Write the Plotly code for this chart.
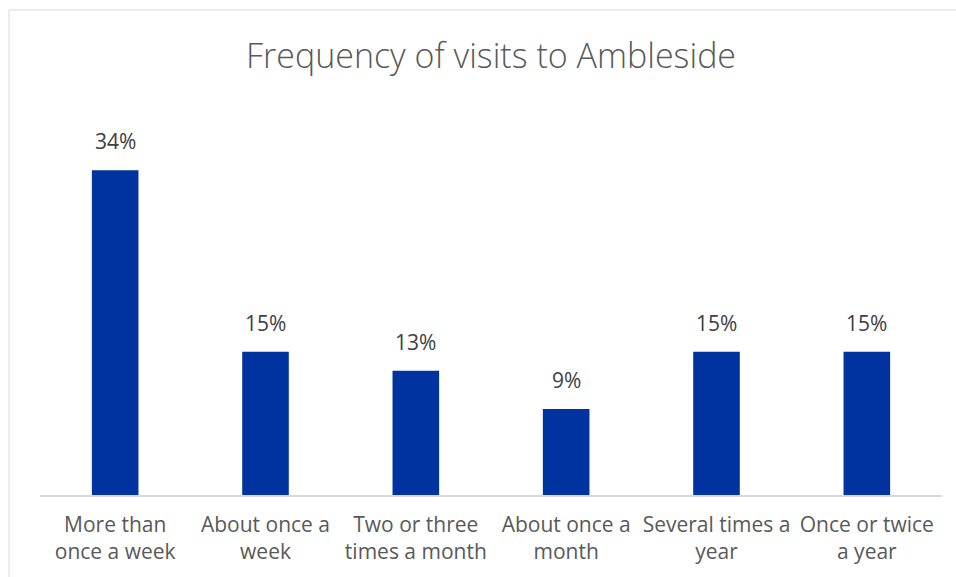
import plotly.graph_objects as go

# Survey responses: how often people visit Ambleside
categories = [
    "More than once a week",
    "About once a week",
    "Two or three times a month",
    "About once a month",
    "Several times a year",
    "Once or twice a year",
]
tick_labels = [
    "More than<br>once a week",
    "About once a<br>week",
    "Two or three<br>times a month",
    "About once a<br>month",
    "Several times a<br>year",
    "Once or twice<br>a year",
]
percentages = [34, 15, 13, 9, 15, 15]

FONT = "Open Sans"
BAR_COLOR = "#0033A0"

fig = go.Figure(
    go.Bar(
        x=categories,
        y=percentages,
        marker=dict(color=BAR_COLOR, line=dict(width=0)),
        width=0.31,
        hoverinfo="skip",
    )
)

# value labels above each bar
for cat, val in zip(categories, percentages):
    fig.add_annotation(
        x=cat, y=val, text=f"{val}%", showarrow=False,
        yanchor="bottom", yshift=13,
        font=dict(family=FONT, size=21, color="#404040"),
    )

# light frame around the chart area
fig.add_shape(
    type="rect", xref="paper", yref="paper",
    x0=(9 - 40) / 902, x1=(980 - 40) / 902,
    y0=(494.7 - 620) / 381.7, y1=(494.7 - 10) / 381.7,
    line=dict(color="#D9D9D9", width=1), fillcolor="rgba(0,0,0,0)",
    layer="below",
)

fig.update_layout(
    width=956, height=577,
    margin=dict(l=40, r=14, t=113, b=82, pad=0),
    paper_bgcolor="white", plot_bgcolor="white",
    showlegend=False,
    title=dict(
        text="Frequency of visits to Ambleside",
        x=0.5, xref="paper", xanchor="center",
        y=1 - 56 / 577, yref="container", yanchor="middle",
        font=dict(family=FONT, size=34, color="#595959", weight=300),
    ),
    xaxis=dict(
        tickmode="array", tickvals=categories, ticktext=tick_labels,
        showline=True, linecolor="#D9D9D9", linewidth=1.5,
        showgrid=False, zeroline=False, ticks="",
        ticklabelstandoff=10,
        tickfont=dict(family=FONT, size=21, color="#595959"),
    ),
    yaxis=dict(
        range=[0, 40], visible=False, showgrid=False, zeroline=False,
    ),
)

fig.write_html("out.html")
